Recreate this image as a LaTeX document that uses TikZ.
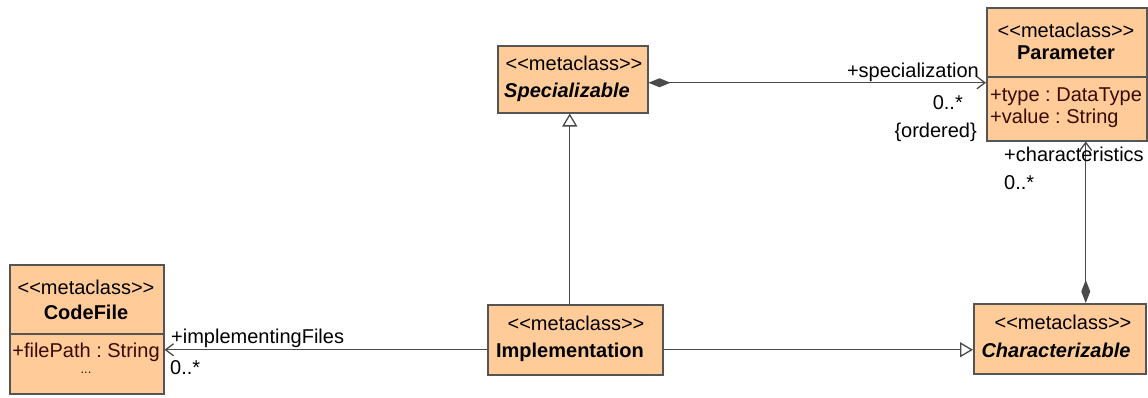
\documentclass[tikz,border=0pt]{standalone}
\usepackage{fontspec}
\setmainfont{Liberation Sans}
\usetikzlibrary{arrows.meta}
\definecolor{clsfill}{HTML}{FFCC99}
\definecolor{clsline}{HTML}{555555}
\definecolor{conline}{HTML}{4A4A4A}
\definecolor{attrcol}{HTML}{3A0A00}
\newcommand\stereotxt{<\kern0pt<metaclass>\kern0pt>}
\frenchspacing
\begin{document}
\begin{tikzpicture}[x=1pt,y=-1pt,
  every node/.style={font=\fontsize{20}{23}\selectfont, inner sep=0pt},
  cls/.style={draw=clsline, fill=clsfill, line width=1.5pt, anchor=north west},
  sep/.style={draw=clsline, line width=1.5pt},
  con/.style={draw=conline, line width=1.3pt},
  bold/.style={font=\fontsize{20}{23}\selectfont\bfseries},
  boldit/.style={font=\fontsize{20}{23}\selectfont\bfseries\itshape},
  attr/.style={text=attrcol},
  openarrow/.style={-{Straight Barb[length=8pt,width=12pt,line width=1.3pt]}},
  comparrow/.style={{Diamond[length=22pt,width=9pt,fill=conline]}-{Straight Barb[length=8pt,width=12pt,line width=1.3pt]}},
  gentip/.style={-{Triangle[open,length=13pt,width=15pt,fill=white,line width=1.3pt]}}
]
\useasboundingbox (0,0) rectangle (1148,397);

% CodeFile
\node[cls, minimum width=154pt, minimum height=129pt] (codefile) at (9,264) {};
\draw[sep] (9,334) -- (163,334);
\node (cfst) at (86,287) {\stereotxt};
\node[bold] (cfname) at (86,312) {CodeFile};
\node[attr] (cfattr) at (86,352) {+filePath : String};
\node[attr, font=\fontsize{13}{14}\selectfont] (cfdots) at (86,373) {...};

% Implementation
\node[cls, minimum width=175pt, minimum height=70pt] (impl) at (487,304) {};
\node (imst) at (576,323) {\stereotxt};
\node[bold] (imname) at (570,352) {Implementation};

% Characterizable
\node[cls, minimum width=172pt, minimum height=70pt] (charz) at (973,303) {};
\node (chst) at (1063,322) {\stereotxt};
\node[boldit] (chname) at (1056,350) {Characterizable};

% Specializable
\node[cls, minimum width=150pt, minimum height=67pt] (spec) at (497,45) {};
\node (spst) at (574,63) {\stereotxt};
\node[boldit, anchor=west] (spname) at (504,92) {Specializable};

% Parameter
\node[cls, minimum width=160pt, minimum height=133pt] (param) at (986,7) {};
\draw[sep] (986,77) -- (1146,77);
\node (past) at (1066,30) {\stereotxt};
\node[bold] (paname) at (1066,53) {Parameter};
\node[attr, anchor=west] (paattr1) at (990,97) {+type : DataType};
\node[attr, anchor=west] (paattr2) at (990,118) {+value : String};

% connectors
\coordinate (ia) at ([yshift=-10pt]impl.west);
\draw[con, openarrow] (ia) -- (ia -| codefile.east);
\coordinate (ib) at ([yshift=-10pt]impl.east);
\draw[con, gentip] (ib) -- (ib -| charz.west);
\coordinate (ic) at ([xshift=-5.5pt]impl.north);
\draw[con, gentip] (ic) -- (ic |- spec.south);
\coordinate (sc) at ([yshift=-3.5pt]spec.east);
\draw[con, comparrow] (sc) -- (sc -| param.west);
\coordinate (cd) at ([xshift=26pt]charz.north);
\draw[con, {Diamond[length=23pt,width=9pt,fill=conline]}-{Straight Barb[length=8pt,width=12pt,line width=1.3pt]}] (cd) -- (cd |- param.south);

% labels
\node[anchor=west] (l1) at (171,338) {+implementingFiles};
\node[anchor=west] (l2) at (170,368) {0..*};
\node[anchor=east] (l3) at (979,72) {+specialization};
\node[anchor=east] (l4) at (963,103) {0..*};
\node[anchor=east] (l5) at (977,132) {\{ordered\}};
\node[anchor=west] (l6) at (1004,154) {+characteristics};
\node[anchor=west] (l7) at (1004,183) {0..*};
\end{tikzpicture}
\end{document}
